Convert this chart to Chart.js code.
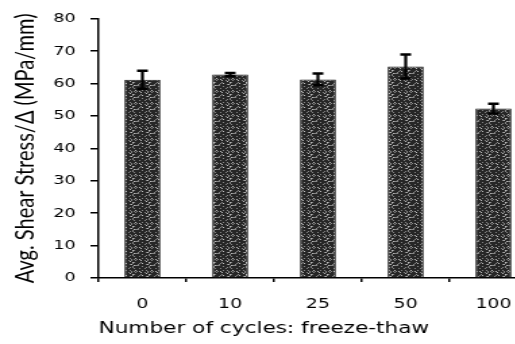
<!DOCTYPE html>
<html>
<head>
<meta charset="utf-8">
<script src="https://cdn.jsdelivr.net/npm/chart.js@4/dist/chart.umd.min.js"></script>
<style>
    html, body { margin: 0; padding: 0; background: #fff; overflow: hidden; }
    /* the source figure is stretched sideways, so the whole chart is too */
    #wrap { width: 400px; height: 344px; transform: scaleX(1.35); transform-origin: 0 0; }
</style>
</head>
<body>
<div id="wrap"><canvas id="chart" width="400" height="344"></canvas></div>
<script>
const cycles = ['0', '10', '25', '50', '100'];
const shearStress = [61.2, 62.8, 61.3, 65.3, 52.3];
const shearError = [2.8, 0.5, 1.8, 3.7, 1.5];
const yTicks = [0, 10, 20, 30, 40, 50, 60, 70, 80];

// speckled dark fill like the scanned bars
function makeSpeckle() {
    const c = document.createElement('canvas');
    c.width = 12;
    c.height = 12;
    const ctx = c.getContext('2d');
    ctx.fillStyle = '#262626';
    ctx.fillRect(0, 0, 12, 12);
    for (let i = 0; i < 12; i++) {
        for (let j = 0; j < 12; j++) {
            const h = (i * 37 + j * 91 + i * j * 13) % 17;
            if (h < 3) {
                ctx.fillStyle = '#858585';
                ctx.fillRect(i, j, 1, 1);
            } else if (h === 3) {
                ctx.fillStyle = '#bdbdbd';
                ctx.fillRect(i, j, 1, 1);
            }
        }
    }
    return document.createElement('canvas').getContext('2d').createPattern(c, 'repeat');
}

const errorBars = {
    id: 'errorBars',
    afterDatasetsDraw(chart) {
        const ctx = chart.ctx;
        const y = chart.scales.y;
        const meta = chart.getDatasetMeta(0);
        ctx.save();
        ctx.strokeStyle = '#000';
        meta.data.forEach((bar, i) => {
            const top = y.getPixelForValue(shearStress[i] + shearError[i]);
            const bot = y.getPixelForValue(shearStress[i] - shearError[i]);
            ctx.lineWidth = 2.2;
            ctx.beginPath();
            ctx.moveTo(bar.x, top);
            ctx.lineTo(bar.x, bot);
            ctx.stroke();
            ctx.lineWidth = 2.5;
            ctx.beginPath();
            ctx.moveTo(bar.x - 4, top);
            ctx.lineTo(bar.x + 4, top);
            ctx.moveTo(bar.x - 4, bot);
            ctx.lineTo(bar.x + 4, bot);
            ctx.stroke();
        });
        ctx.restore();
    }
};

new Chart(document.getElementById('chart'), {
    type: 'bar',
    data: {
        labels: cycles,
        datasets: [{
            data: shearStress,
            backgroundColor: makeSpeckle(),
            borderColor: '#1a1a1a',
            borderWidth: 1,
            categoryPercentage: 1,
            barPercentage: 0.41
        }]
    },
    options: {
        responsive: false,
        animation: false,
        devicePixelRatio: 1,
        layout: { padding: { top: 15, right: 2, bottom: 0, left: 0 } },
        plugins: { legend: { display: false }, tooltip: { enabled: false } },
        scales: {
            x: {
                offset: true,
                grid: { offset: true, drawOnChartArea: false, drawTicks: true, tickLength: 4, color: '#000', lineWidth: 1.5 },
                border: { display: true, color: '#000', width: 1.5 },
                ticks: { color: '#000', padding: 14, font: { family: 'DejaVu Sans', size: 14 } },
                title: {
                    display: true,
                    text: 'Number of cycles: freeze-thaw',
                    align: 'start',
                    color: '#000',
                    font: { family: 'DejaVu Sans', size: 16 },
                    padding: { top: 0, bottom: 6 }
                },
                afterFit(scale) { scale.height = 66; }
            },
            y: {
                min: 0,
                max: 80,
                afterBuildTicks(scale) { scale.ticks = yTicks.map(v => ({ value: v })); },
                grid: { drawOnChartArea: false, drawTicks: true, tickLength: 6, color: '#000', lineWidth: 1.5 },
                border: { display: true, color: '#000', width: 1.5 },
                ticks: { color: '#000', padding: 11, font: { family: 'DejaVu Sans', size: 13 } },
                title: {
                    display: true,
                    text: 'Avg. Shear Stress/Δ (MPa/mm)',
                    color: '#000',
                    font: { family: 'Lato', size: 20 },
                    padding: { top: 7, bottom: 0 }
                },
                afterFit(scale) { scale.width = 73; }
            }
        }
    },
    plugins: [errorBars]
});
</script>
</body>
</html>
